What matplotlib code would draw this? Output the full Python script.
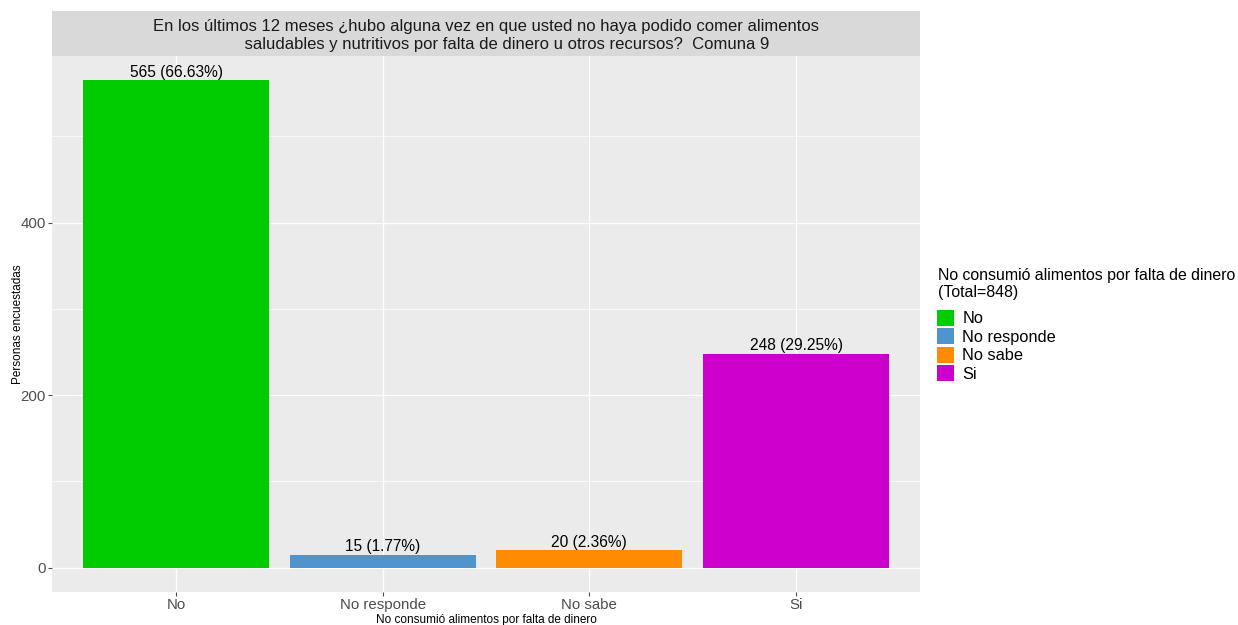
import matplotlib.pyplot as plt
from matplotlib.patches import Rectangle, Patch
from matplotlib.ticker import MultipleLocator

plt.rcParams['font.family'] = ['Liberation Sans', 'DejaVu Sans']

# Data
categorias = ["No", "No responde", "No sabe", "Si"]
valores = [565, 15, 20, 248]
porcentajes = [66.63, 1.77, 2.36, 29.25]
colores = ["#00CC00", "#4F94CD", "#FF8C00", "#CC00CC"]
total = 848

W, H = 1238, 625
fig = plt.figure(figsize=(W / 100, H / 100), dpi=100)

# panel
x0, x1, y0, y1 = 52, 920, 56, 592
ax = fig.add_axes([x0 / W, 1 - y1 / H, (x1 - x0) / W, (y1 - y0) / H])
ax.set_facecolor("#EBEBEB")

pos = list(range(1, len(categorias) + 1))
ax.bar(pos, valores, width=0.9, color=colores, zorder=3)

for p, v, pc in zip(pos, valores, porcentajes):
    ax.text(p, v + 1, f"{v} ({pc:.2f}%)", ha="center", va="bottom",
            fontsize=11.2, color="black", zorder=4)

ax.set_xlim(0.4, 4.6)
ax.set_ylim(-0.05 * max(valores), max(valores) * 1.05)
ax.set_xticks(pos)
ax.set_xticklabels(categorias)
ax.yaxis.set_major_locator(MultipleLocator(200))
ax.yaxis.set_minor_locator(MultipleLocator(100))
ax.grid(which="major", color="white", linewidth=1.0, zorder=0)
ax.grid(which="minor", axis="y", color="white", linewidth=0.5, zorder=0)
ax.set_axisbelow(True)
for s in ax.spines.values():
    s.set_visible(False)
ax.tick_params(which="major", colors="#4D4D4D", labelsize=10.8, length=2.8,
               width=0.8, pad=1.5)
ax.tick_params(which="minor", length=0)

ax.set_xlabel("No consumió alimentos por falta de dinero", fontsize=8.5)
ax.set_ylabel("Personas encuestadas", fontsize=8.5)
ax.xaxis.set_label_coords(0.5, -(614 - y1) / (y1 - y0))
ax.xaxis.label.set_va("top")
ax.yaxis.set_label_coords(-(x0 - 24) / (x1 - x0), 0.5)

# title strip
fig.patches.append(Rectangle((x0 / W, 1 - y0 / H), (x1 - x0) / W, 45 / H,
                             transform=fig.transFigure, facecolor="#D9D9D9",
                             edgecolor="none"))
fig.text((x0 + x1) / 2 / W, 1 - 35 / H,
         "En los últimos 12 meses ¿hubo alguna vez en que usted no haya podido comer alimentos\n"
         "         saludables y nutritivos por falta de dinero u otros recursos?  Comuna 9",
         ha="center", va="center", fontsize=12, color="#1A1A1A", linespacing=1.25)

# legend
fig.text(938 / W, 1 - 284 / H,
         f"No consumió alimentos por falta de dinero\n(Total={total})",
         ha="left", va="center", fontsize=11.4, color="black", linespacing=1.2)
handles = [Patch(facecolor=c, edgecolor="none") for c in colores]
leg = fig.legend(handles, categorias,
                 loc="upper left", bbox_to_anchor=(937 / W, 1 - 310 / H),
                 frameon=False, fontsize=11.8,
                 handlelength=1.05, handleheight=1.1, handletextpad=0.5,
                 labelspacing=0.12, borderaxespad=0, borderpad=0)

fig.savefig("out.png", dpi=100)
